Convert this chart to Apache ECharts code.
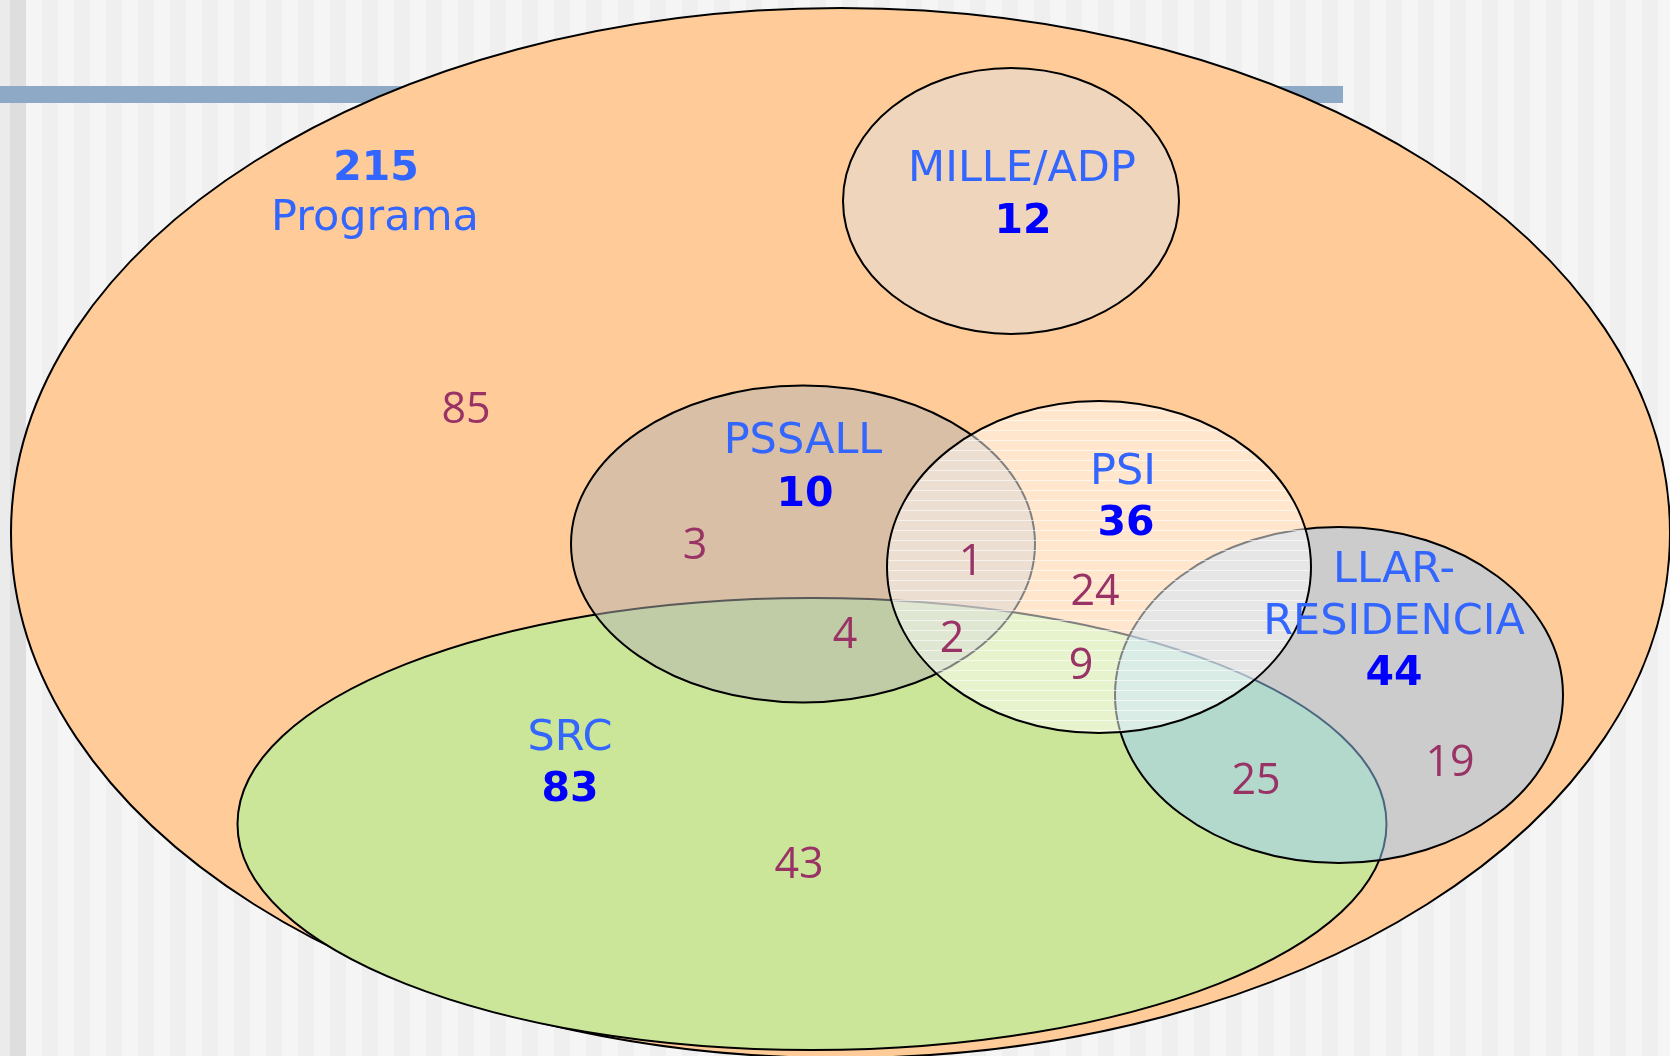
<!DOCTYPE html>
<html>
<head>
<meta charset="utf-8">
<script src="https://cdn.jsdelivr.net/npm/echarts@6/dist/echarts.min.js"></script>
<style>
html,body{margin:0;padding:0;overflow:hidden;}
#main{
  width:1670px;height:1056px;
  background-image:
    linear-gradient(to right,#ebebeb 0,#ebebeb 10px,#dedede 10px,#dedede 26px,transparent 26px),
    repeating-linear-gradient(to right,#f5f5f5 0,#f5f5f5 16px,#efefef 16px,#efefef 32px);
  background-position:0 0, 26px 0;
}
</style>
</head>
<body>
<div id="main"></div>
<script>
	// conjuntos (nom, total) i valors de cada zona
	var setNames  = ['Programa', 'MILLE/ADP', 'SRC', 'PSSALL', 'LLAR-\nRESIDENCIA', 'PSI'];
	var setTotals = [215, 12, 83, 10, 44, 36];
	var regionValues = [85, 3, 1, 24, 4, 2, 9, 25, 19, 43];

	// geometria de les el·lipses: [cx, cy, rx, ry] en unitats de l'eix
	var ellipses = [
		[840.5, 533, 829.5, 525],
		[1011, 201, 168, 133],
		[812, 824, 574.5, 226],
		[803, 544, 232, 158.5],
		[1339, 695, 224, 168],
		[1099, 567, 212, 166]
	];
	var setFill = ['#ffcc99', '#efd5bb', '#cce699', 'rgba(178,178,178,0.5)', 'rgba(153,204,255,0.5)', 'rgba(255,255,255,0.5)'];
	var hatched = [false, false, false, false, false, true];

	// on van els textos
	var nameAnchor  = [[375, 219], [1022, 170], [570, 739], [803, 442], [1394, 597], [1123, 473]];
	var totalAnchor = [[376, 169], [1023, 222], [570, 790], [805, 495], [1394, 674], [1126, 524]];
	var regionAnchor = [[466, 411], [695, 547], [971, 563], [1095, 593], [845, 636], [952, 640], [1081, 667], [1256, 782], [1450, 764], [799, 866]];

	// patró de ratlles horitzontals per al PSI
	var hatch = document.createElement('canvas');
	hatch.width = 10; hatch.height = 10;
	var hctx = hatch.getContext('2d');
	hctx.fillStyle = 'rgba(255,255,255,0.6)';
	hctx.fillRect(0, 0, 10, 1);

	var ellipseData = [];
	for (var i = 0; i < ellipses.length; i++) {
		ellipseData.push(ellipses[i].concat([i]));
	}

	var texts = [];
	for (var i = 0; i < setNames.length; i++) {
		texts.push({value: nameAnchor[i], text: setNames[i], font: 'normal 43px "DejaVu Sans"', color: '#3366ff'});
		texts.push({value: totalAnchor[i], text: String(setTotals[i]), font: 'bold 41px "DejaVu Sans"', color: i == 0 ? '#3366ff' : '#0000ff'});
	}
	for (var i = 0; i < regionValues.length; i++) {
		texts.push({value: regionAnchor[i], text: String(regionValues[i]), font: 'normal 43px "Open Sans"', color: '#993366'});
	}

	var chart = echarts.init(document.getElementById('main'));
	var option = {
		backgroundColor: 'transparent',
		animation: false,
		grid: {left: 0, right: 0, top: 0, bottom: 0},
		xAxis: {type: 'value', min: 0, max: 1670, show: false},
		yAxis: {type: 'value', min: 0, max: 1056, inverse: true, show: false},
		graphic: [{
			type: 'rect', z: -1,
			shape: {x: 0, y: 86, width: 1343, height: 17},
			style: {fill: '#8ea9c6'}
		}],
		series: [{
			type: 'custom',
			coordinateSystem: 'cartesian2d',
			silent: true,
			data: ellipseData,
			renderItem: function (params, api) {
				var k = api.value(4);
				var c = api.coord([api.value(0), api.value(1)]);
				var s = api.size([api.value(2), api.value(3)]);
				var shape = {cx: c[0], cy: c[1], rx: s[0], ry: s[1]};
				var children = [{type: 'ellipse', shape: shape, style: {fill: setFill[k], stroke: null}}];
				if (hatched[k]) {
					children.push({type: 'ellipse', shape: shape, style: {fill: {image: hatch, repeat: 'repeat'}, stroke: null}});
				}
				children.push({type: 'ellipse', shape: shape, style: {fill: null, stroke: '#000', lineWidth: 2}});
				return {type: 'group', children: children};
			}
		}, {
			type: 'custom',
			coordinateSystem: 'cartesian2d',
			silent: true,
			z: 5,
			data: texts,
			renderItem: function (params, api) {
				var t = texts[params.dataIndex];
				var c = api.coord([api.value(0), api.value(1)]);
				return {
					type: 'text',
					style: {
						text: t.text, x: c[0], y: c[1],
						fill: t.color, font: t.font, lineHeight: 52,
						align: 'center', verticalAlign: 'middle',
						textAlign: 'center', textVerticalAlign: 'middle'
					}
				};
			}
		}]
	};
	chart.setOption(option);
</script>
</body>
</html>
